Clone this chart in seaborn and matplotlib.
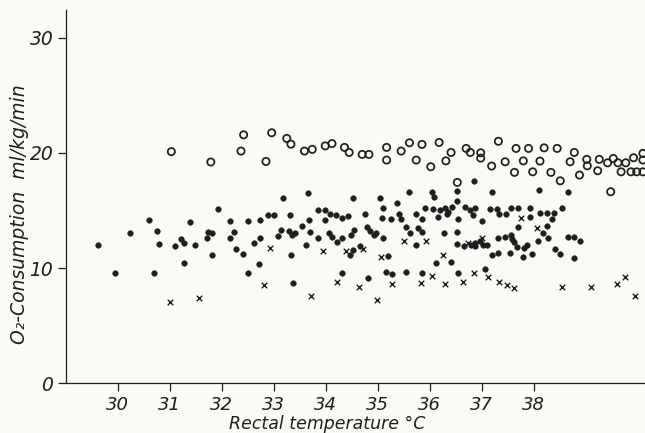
import matplotlib
matplotlib.use("Agg")
import matplotlib.pyplot as plt
import numpy as np
import pandas as pd
import seaborn as sns

# open circles
open_temp = [31.03, 31.79, 32.37, 32.42, 32.85, 32.96, 33.25, 33.33, 33.59, 33.74,
             33.99, 34.12, 34.36, 34.45, 34.70, 34.83, 35.17, 35.17, 35.45, 35.61,
             35.85, 35.74, 36.02, 36.18, 36.41, 36.31, 36.70, 36.78, 36.98, 36.98,
             37.19, 37.32, 37.45, 37.66, 37.63, 37.80, 37.90, 37.98, 38.12, 38.20,
             38.33, 38.45, 38.51, 38.70, 38.78, 38.88, 39.02, 39.03, 39.23, 39.26,
             39.42, 39.53, 39.62, 39.77, 39.68, 39.87, 39.98, 40.10, 39.92, 40.10,
             40.10, 39.48, 36.53]
open_o2 = [20.1, 19.2, 20.15, 21.56, 19.25, 21.74, 21.25, 20.75, 20.15, 20.3,
           20.6, 20.8, 20.47, 20.03, 19.86, 19.86, 20.47, 19.37, 20.15, 20.87,
           20.73, 19.37, 18.79, 20.9, 20.03, 19.3, 20.38, 20.03, 20.0, 19.54,
           18.85, 21.0, 19.22, 20.38, 18.3, 19.3, 20.38, 18.35, 19.28, 20.43,
           18.3, 20.38, 17.57, 19.22, 20.03, 18.07, 19.43, 18.87, 18.44, 19.43,
           19.13, 19.51, 19.13, 19.13, 18.35, 18.35, 18.35, 18.35, 19.57, 19.95,
           19.37, 16.62, 17.43]

# filled dots
dot_temp = [29.62, 29.94, 30.24, 30.60, 30.70, 30.75, 30.79, 31.10, 31.22, 31.28,
            31.28, 31.39, 31.48, 31.71, 31.73, 31.82, 31.82, 31.93, 32.16, 32.23,
            32.16, 32.27, 32.40, 32.50, 32.51, 32.62, 32.72, 32.74, 32.74, 32.88,
            33.01, 33.08, 33.14, 33.18, 33.30, 33.31, 33.33, 33.35, 33.37, 33.41,
            33.54, 33.62, 33.65, 33.67, 33.70, 33.86, 33.86, 33.99, 33.99, 34.06,
            34.08, 34.12, 34.20, 34.21, 34.31, 34.32, 34.32, 34.43, 34.47, 34.49,
            34.53, 34.53, 34.55, 34.65, 34.76, 34.80, 34.82, 34.85, 34.92, 34.97,
            35.04, 35.08, 35.10, 35.11, 35.16, 35.19, 35.26, 35.28, 35.37, 35.40,
            35.44, 35.54, 35.54, 35.61, 35.62, 35.74, 35.74, 35.78, 35.85, 35.85,
            35.85, 35.91, 36.05, 36.07, 36.09, 36.12, 36.15, 36.20, 36.28, 36.30,
            36.33, 36.35, 36.41, 36.42, 36.52, 36.53, 36.53, 36.53, 36.54, 36.54,
            36.65, 36.67, 36.78, 36.79, 36.84, 36.86, 36.87, 36.87, 36.87, 36.97,
            37.00, 37.03, 37.06, 37.10, 37.16, 37.19, 37.19, 37.30, 37.31, 37.32,
            37.33, 37.45, 37.47, 37.54, 37.56, 37.56, 37.58, 37.63, 37.67, 37.69,
            37.70, 37.80, 37.82, 37.87, 37.93, 37.93, 37.96, 38.09, 38.11, 38.12,
            38.18, 38.25, 38.25, 38.28, 38.35, 38.39, 38.41, 38.51, 38.55, 38.65,
            38.65, 38.78, 38.78, 38.89]
dot_o2 = [12.0, 9.57, 13.06, 14.2, 9.57, 13.24, 12.05, 11.94, 12.49, 12.14,
          10.4, 14.0, 12.0, 12.57, 13.12, 13.0, 11.1, 15.09, 14.08, 13.15,
          12.57, 11.62, 11.19, 14.08, 9.54, 12.14, 10.37, 14.16, 12.63, 14.57,
          14.57, 12.78, 13.3, 16.1, 13.2, 14.57, 11.1, 12.86, 8.67, 13.06,
          13.64, 12.02, 16.53, 14.16, 13.1, 15.03, 12.63, 15.03, 14.16, 13.01,
          14.68, 12.71, 14.6, 12.28, 9.54, 14.31, 12.58, 14.51, 11.13, 12.86,
          16.05, 11.56, 13.3, 11.94, 14.66, 13.53, 9.16, 13.2, 12.86, 13.01,
          16.05, 14.36, 15.18, 12.63, 9.68, 11.04, 14.25, 9.45, 15.66, 14.68,
          14.28, 13.53, 9.68, 16.62, 13.01, 14.68, 12.0, 13.44, 14.22, 13.15,
          9.54, 15.18, 16.62, 15.09, 16.13, 10.46, 14.45, 15.03, 13.06, 15.18,
          14.66, 14.88, 10.49, 15.32, 12.08, 16.7, 15.81, 13.12, 14.22, 9.54,
          11.91, 15.26, 15.03, 12.0, 14.6, 17.55, 15.18, 12.19, 11.91, 12.34,
          14.08, 12.0, 9.89, 12.0, 15.09, 16.62, 11.13, 15.09, 12.58, 11.33,
          14.66, 12.66, 14.66, 11.27, 15.18, 12.86, 12.52, 12.28, 11.85, 15.18,
          13.58, 10.98, 11.71, 12.0, 15.18, 14.4, 11.21, 12.37, 16.77, 14.74,
          13.06, 14.74, 13.64, 12.58, 14.22, 14.8, 11.62, 11.21, 15.18, 16.62,
          12.66, 12.66, 10.87, 12.34]

# crosses
cross_temp = [31.00, 31.56, 32.81, 32.93, 33.72, 33.95, 34.21, 34.39, 34.63, 34.72,
              34.98, 35.07, 35.27, 35.51, 35.83, 35.93, 36.04, 36.26, 36.29, 36.63,
              36.74, 36.86, 37.01, 37.13, 37.33, 37.48, 37.63, 37.76, 38.06, 38.55,
              39.10, 39.60, 39.76, 39.94]
cross_o2 = [7.08, 7.42, 8.55, 11.71, 7.6, 11.5, 8.81, 11.47, 8.38, 11.65,
            7.22, 10.93, 8.61, 12.34, 8.67, 12.37, 9.33, 11.13, 8.59, 8.81,
            12.19, 9.59, 12.57, 9.25, 8.76, 8.53, 8.24, 14.31, 13.44, 8.38,
            8.38, 8.61, 9.25, 7.57]

x_ticks = [30, 31, 32, 33, 34, 35, 36, 37, 38]
y_ticks = [0, 10, 20, 30]

df_open = pd.DataFrame({"temp": open_temp, "o2": open_o2})
df_dot = pd.DataFrame({"temp": dot_temp, "o2": dot_o2})
df_cross = pd.DataFrame({"temp": cross_temp, "o2": cross_o2})

sns.set_style("ticks")
plt.rcParams["font.family"] = ["DejaVu Sans"]

ink = "#1e1e1e"
paper = "#fbfbf5"

fig = plt.figure(figsize=(6.45, 4.33), dpi=100, facecolor=paper)
ax = fig.add_axes([0.102, 0.115, 0.898, 0.862])
ax.set_facecolor(paper)

sns.scatterplot(data=df_open, x="temp", y="o2", ax=ax, marker="o", s=27,
                facecolors="none", edgecolor=ink, linewidth=1.25)
sns.scatterplot(data=df_dot, x="temp", y="o2", ax=ax, marker="o", s=16,
                color=ink, edgecolor=ink, linewidth=0.4)
sns.scatterplot(data=df_cross, x="temp", y="o2", ax=ax, marker="x", s=16,
                color=ink, linewidth=1.0)

ax.set_xlim(29.0, 40.14)
ax.set_ylim(0, 32.4)
ax.set_xticks(x_ticks)
ax.set_yticks(y_ticks)
ax.set_xticklabels([str(t) for t in x_ticks], fontsize=13, style="italic", color=ink)
ax.set_yticklabels([str(t) for t in y_ticks], fontsize=13.5, style="italic", color=ink)
ax.tick_params(axis="both", direction="out", length=6, width=0.9, color=ink, pad=3)

ax.set_xlabel("Rectal temperature °C", fontsize=12.5, style="italic", color=ink)
ax.set_ylabel("O₂-Consumption  ml/kg/min", fontsize=13.5, style="italic", color=ink)
ax.xaxis.set_label_coords(0.451, -0.085)
ax.yaxis.set_label_coords(-0.064, 0.453)

sns.despine(ax=ax)
for side in ["left", "bottom"]:
    ax.spines[side].set_color(ink)
    ax.spines[side].set_linewidth(0.9)

fig.savefig("out.png", dpi=100, facecolor=paper)
